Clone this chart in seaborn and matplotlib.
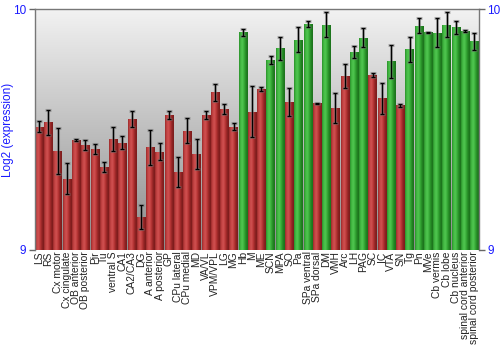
import numpy as np
import pandas as pd
import matplotlib
matplotlib.use("Agg")
import matplotlib.pyplot as plt
from matplotlib.colors import LinearSegmentedColormap
import seaborn as sns

regions = ["LS", "RS", "Cx motor", "Cx cingulate", "OB anterior", "OB posterior",
           "Pir", "Tu", "ventral S", "CA1", "CA2/CA3", "DG", "A anterior",
           "A posterior", "GP", "CPu lateral", "CPu medial", "MD", "VA/VL",
           "VPM/VPL", "LG", "MG", "Hb", "M", "ME", "SCN", "MPA", "SO", "Pa",
           "SPa ventral", "SPa dorsal", "DM", "VMH", "Arc", "LH", "PAG", "SC",
           "IC", "VTA", "SN", "Tg", "Pn", "MVe", "Cb vermis", "Cb lobe",
           "Cb nucleus", "spinal cord anterior", "spinal cord posterior"]

expression = [9.512, 9.530, 9.412, 9.295, 9.456, 9.434, 9.420, 9.344, 9.461,
              9.444, 9.544, 9.137, 9.427, 9.407, 9.561, 9.322, 9.494, 9.398,
              9.560, 9.654, 9.585, 9.512, 9.903, 9.573, 9.668, 9.788, 9.838,
              9.613, 9.873, 9.938, 9.609, 9.936, 9.589, 9.722, 9.822, 9.882,
              9.725, 9.629, 9.783, 9.600, 9.834, 9.931, 9.903, 9.902, 9.936,
              9.925, 9.909, 9.867]

error = [0.024, 0.051, 0.095, 0.064, 0.004, 0.021, 0.020, 0.022, 0.050,
         0.027, 0.033, 0.051, 0.073, 0.035, 0.017, 0.062, 0.052, 0.063,
         0.018, 0.034, 0.019, 0.014, 0.015, 0.106, 0.007, 0.017, 0.048,
         0.058, 0.052, 0.012, 0.002, 0.052, 0.061, 0.048, 0.026, 0.038,
         0.008, 0.066, 0.069, 0.007, 0.052, 0.030, 0.002, 0.061, 0.050,
         0.027, 0.004, 0.035]

high_regions = ["Hb", "SCN", "MPA", "Pa", "SPa ventral", "DM", "LH", "PAG",
                "VTA", "Tg", "Pn", "MVe", "Cb vermis", "Cb lobe", "Cb nucleus",
                "spinal cord anterior", "spinal cord posterior"]

y_ticks = [9, 10]

df = pd.DataFrame({"region": regions, "expression": expression, "error": error})
df["group"] = np.where(df["region"].isin(high_regions), "high", "low")

sns.set_theme(style="white")
plt.rcParams["font.family"] = ["Liberation Sans", "DejaVu Sans"]

fig = plt.figure(figsize=(5, 3.5), dpi=100)
ax = fig.add_axes([0.069, 0.286, 0.889, 0.688])

base = {"low": "#b83434", "high": "#35a835"}
sns.barplot(data=df, x="region", y="expression", hue="group", palette=base,
            order=regions, width=0.9, dodge=False, legend=False, ax=ax,
            errorbar=None, edgecolor="none", zorder=2)
ax.set_ylim(9, 10)
ax.set_xlim(-0.5, len(regions) - 0.5)

# vertical grey gradient behind the bars (light at the top)
bg = np.linspace(0, 1, 256).reshape(-1, 1)
bg_cmap = LinearSegmentedColormap.from_list("bg", ["#f2f2f2", "#8c8c8c"])
ax.imshow(bg, cmap=bg_cmap, extent=[0, 1, 0, 1], origin="upper",
          transform=ax.transAxes, aspect="auto", zorder=0,
          interpolation="bicubic")

# cylindrical shading on each bar
shade = {
    "low": LinearSegmentedColormap.from_list(
        "r", ["#9a2a2a", "#c64646", "#cf5050", "#b83636", "#8e2222", "#7a1c1c"]),
    "high": LinearSegmentedColormap.from_list(
        "g", ["#2a902a", "#46bc46", "#50c650", "#35a835", "#228422", "#1c701c"]),
}
group_of = dict(zip(range(len(regions)), df["group"]))
row = np.linspace(0, 1, 64).reshape(1, -1)
for patch in list(ax.patches):
    h = patch.get_height()
    if not np.isfinite(h) or h == 0:
        continue
    x0, w = patch.get_x(), patch.get_width()
    idx = int(round(x0 + w / 2))
    im = ax.imshow(row, cmap=shade[group_of[idx]],
                   extent=[x0, x0 + w, 9, patch.get_y() + h],
                   aspect="auto", zorder=2.5, interpolation="bilinear")
    im.set_clip_path(patch)
ax.set_ylim(9, 10)
ax.set_xlim(-0.5, len(regions) - 0.5)

xs = np.arange(len(regions))
ax.errorbar(xs, df["expression"], yerr=df["error"], fmt="none",
            ecolor=(0.45, 0.45, 0.45, 0.5), elinewidth=2.2, capsize=1.9,
            capthick=2.2, zorder=3)
ax.errorbar(xs, df["expression"], yerr=df["error"], fmt="none",
            ecolor="black", elinewidth=0.9, capsize=1.6, capthick=0.9, zorder=4)

ax.set_xlabel("")
ax.set_ylabel("Log2 (expression)", color="#1a1aff", fontsize=8.5)
ax.yaxis.set_label_coords(-0.046, 0.5)
ax.set_yticks(y_ticks)
ax.set_yticklabels([str(t) for t in y_ticks], color="#1a1aff", fontsize=8.5)
ax.tick_params(axis="y", left=True, length=4, width=1, color="#666666", pad=2)
ax.tick_params(axis="x", bottom=False, length=0, pad=1)
ax.set_xticks(xs)
ax.set_xticklabels(regions, rotation=90, fontsize=7.4, color="#222222")

for side in ["top", "left", "right"]:
    ax.spines[side].set_color("#777777")
    ax.spines[side].set_linewidth(1)
ax.spines["bottom"].set_visible(False)

ax2 = ax.twinx()
ax2.set_ylim(9, 10)
ax2.set_yticks(y_ticks)
ax2.set_yticklabels([str(t) for t in y_ticks], color="#1a1aff", fontsize=8.5)
ax2.tick_params(axis="y", right=True, length=4, width=1, color="#666666", pad=2)
for side in ["top", "left", "right", "bottom"]:
    ax2.spines[side].set_visible(False)

fig.savefig("out.png", dpi=100, facecolor="white")
